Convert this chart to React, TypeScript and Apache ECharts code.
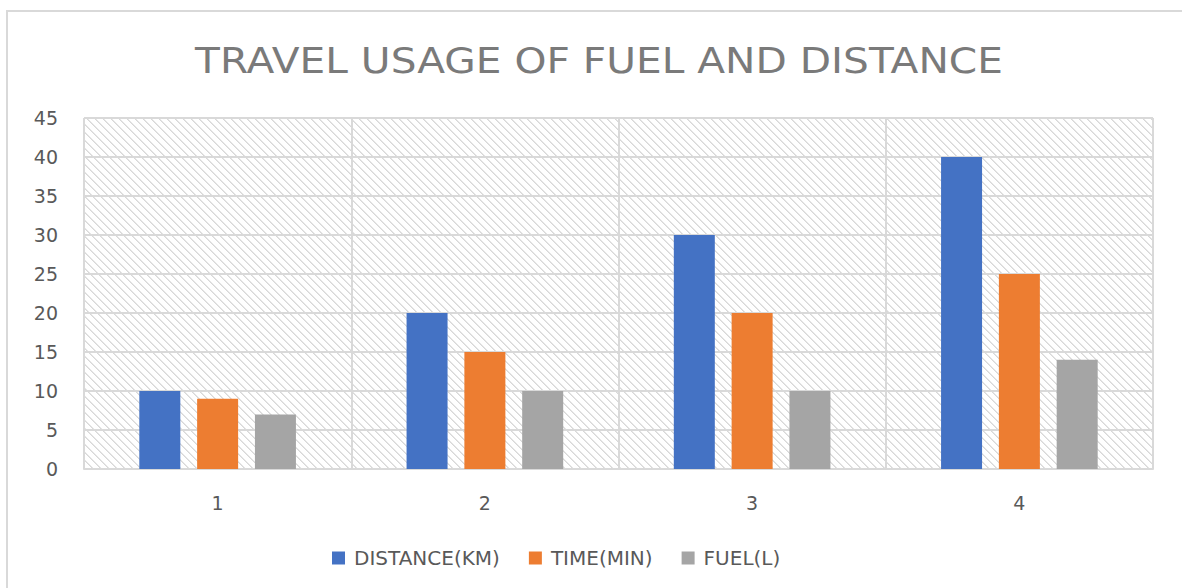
import React, { useEffect, useRef } from "react";
import * as echarts from "echarts";

const categories = ["1", "2", "3", "4"];
const distanceKm = [10, 20, 30, 40];
const timeMin = [9, 15, 20, 25];
const fuelL = [7, 10, 10, 14];
const seriesNames = ["DISTANCE(KM)", "TIME(MIN)", "FUEL(L)"];
const colors = ["#4472C4", "#ED7D31", "#A5A5A5"];
const chartTitle = "TRAVEL USAGE OF FUEL AND DISTANCE";

function makeHatch(): string {
  const n = 8;
  const c = document.createElement("canvas");
  c.width = n;
  c.height = n;
  const ctx = c.getContext("2d")!;
  ctx.fillStyle = "#ffffff";
  ctx.fillRect(0, 0, n, n);
  for (let i = 0; i < n; i++) {
    ctx.fillStyle = "#d8d8d8";
    ctx.fillRect(i, i, 1, 1);
    ctx.fillStyle = "#e6e6e6";
    ctx.fillRect((i + 1) % n, i, 1, 1);
  }
  return c.toDataURL();
}

export default function App() {
  const ref = useRef<HTMLDivElement>(null);
  useEffect(() => {
    const chart = echarts.init(ref.current!, undefined, { renderer: "svg" });
    const font = "'DejaVu Sans', 'Open Sans', sans-serif";
    const data = [distanceKm, timeMin, fuelL];
    chart.setOption({
      animation: false,
      backgroundColor: "#ffffff",
      textStyle: { fontFamily: font },
      graphic: [
        {
          type: "rect",
          shape: { x: 7, y: 11, width: 1200, height: 620 },
          style: { fill: "none", stroke: "#d9d9d9", lineWidth: 2 },
          z: 100,
        },
        {
          type: "text",
          x: 599,
          y: 60,
          scaleX: 1.13,
          style: {
            text: chartTitle,
            fontFamily: font,
            fontSize: 36,
            fill: "#7a7a7a",
            textAlign: "center",
            textVerticalAlign: "middle",
          },
        },
      ],
      legend: {
        left: 327,
        top: 543,
        icon: "rect",
        itemWidth: 13,
        itemHeight: 13,
        itemGap: 29,
        data: seriesNames,
        textStyle: { fontFamily: font, fontSize: 20, color: "#595959", padding: [0, 0, 0, 4] },
      },
      grid: { left: 84, top: 118, right: 29, bottom: 119, containLabel: false, show: true, borderWidth: 0, backgroundColor: { image: makeHatch(), repeat: "repeat" } },
      xAxis: {
        type: "category",
        data: categories,
        axisLine: { show: true, lineStyle: { color: "#d9d9d9", width: 2 } },
        axisTick: { show: false },
        axisLabel: { fontFamily: font, fontSize: 19, color: "#595959", margin: 24 },
        splitLine: { show: true, lineStyle: { color: "#d9d9d9", width: 2 } },
      },
      yAxis: {
        type: "value",
        min: 0,
        max: 45,
        interval: 5,
        axisLine: { show: false },
        axisTick: { show: false },
        axisLabel: { fontFamily: font, fontSize: 19, color: "#595959", margin: 26 },
        splitLine: { show: true, lineStyle: { color: "#d9d9d9", width: 2 } },
      },
      series: seriesNames.map((name, i) => ({
        name,
        type: "bar",
        data: data[i],
        barWidth: 41,
        barGap: "41%",
        itemStyle: { color: colors[i] },
      })),
    });
    return () => chart.dispose();
  }, []);
  return (
    <div
      ref={ref}
      style={{ position: "fixed", left: 0, top: 0, width: 1182, height: 588 }}
    />
  );
}
